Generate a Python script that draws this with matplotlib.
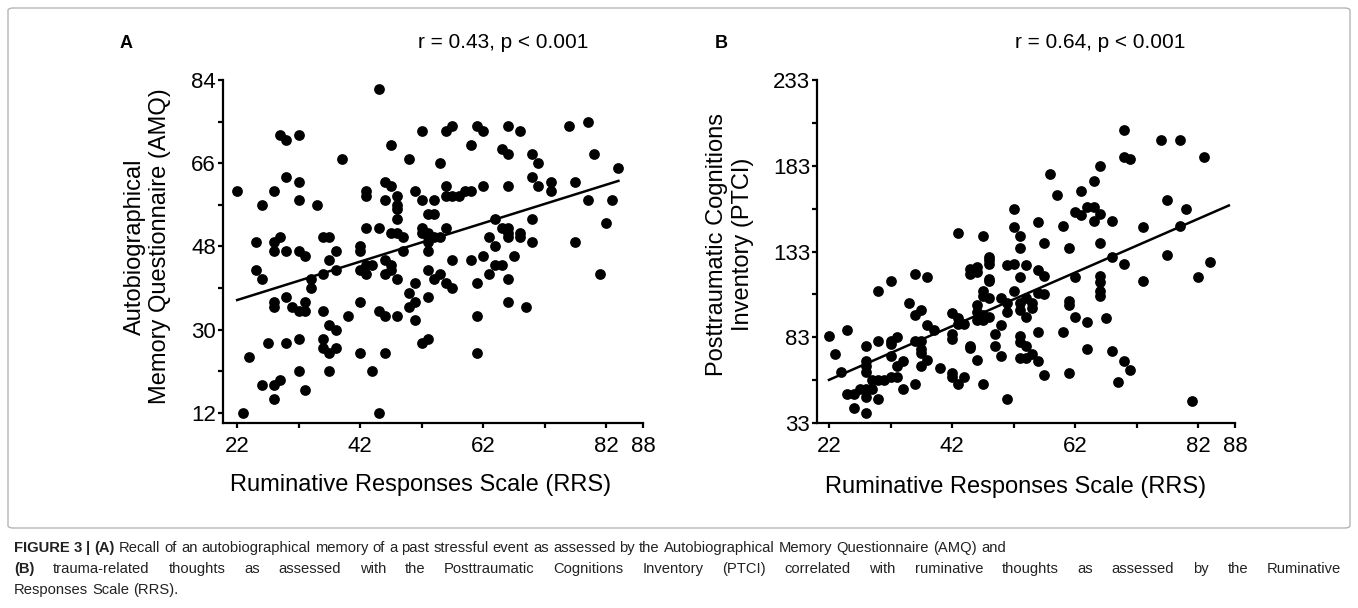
import numpy as np
import matplotlib
matplotlib.use('Agg')
import matplotlib.pyplot as plt
from matplotlib.patches import FancyBboxPatch

plt.rcParams['font.family'] = ['Liberation Sans', 'DejaVu Sans']

# Panel A: RRS vs AMQ
rrs_a = [22, 26, 28, 29, 30, 32, 30, 32, 32, 35, 39, 45, 47, 50, 52, 55,
         43, 43, 46, 47, 46, 48, 48, 48, 48, 51, 52, 54, 53, 54,
         43, 45, 47, 48, 49, 52, 52, 53, 53, 54, 55,
         25, 28, 29, 36, 37, 42,
         28, 30, 32, 33, 37, 38, 42, 42, 43, 44, 43, 46, 47, 47, 46, 48, 49, 53, 53, 53, 54, 55,
         51, 50, 51, 50, 53, 51, 52, 53,
         25, 26, 34, 36, 38, 34, 28, 28, 30, 31, 32, 33, 33, 36, 40, 42, 45, 46, 48, 37, 38,
         27, 30, 32, 36, 36, 37, 38, 42, 46, 24, 32, 37, 44, 26, 28, 29, 33, 28, 23, 45,
         56, 57, 61, 62, 66, 68, 76, 79, 60, 65, 66, 70, 71, 80,
         84, 70, 71, 73, 73, 77, 56, 62, 66, 56, 57, 58, 59, 60, 64, 70, 79, 83, 82, 56,
         63, 65, 66, 66, 66, 68, 68, 64, 70, 77,
         56, 57, 57, 60, 62, 63, 64, 65, 67, 66, 61, 66, 69, 61, 61, 81]
amq = [60, 57, 60, 72, 71, 72, 63, 62, 58, 57, 67, 82, 70, 67, 73, 66,
       60, 59, 62, 61, 58, 59, 57, 56, 54, 60, 58, 58, 55, 55,
       52, 52, 51, 51, 50, 52, 51, 51, 50, 50, 50,
       49, 49, 50, 50, 50, 48,
       47, 47, 47, 46, 45, 47, 47, 43, 44, 44, 42, 45, 44, 43, 42, 41, 47, 49, 47, 43, 41, 42,
       40, 38, 36, 35, 37, 32, 27, 28,
       43, 41, 41, 42, 43, 39, 36, 35, 37, 35, 34, 34, 36, 34, 33, 36, 34, 33, 33, 31, 30,
       27, 27, 28, 28, 26, 25, 26, 25, 25, 24, 21, 21, 21, 18, 18, 19, 17, 15, 12, 12,
       73, 74, 74, 73, 74, 73, 74, 75, 70, 69, 68, 68, 66, 68,
       65, 63, 61, 62, 60, 62, 61, 61, 61, 59, 59, 59, 60, 60, 54, 54, 58, 58, 53, 52,
       50, 52, 52, 51, 50, 51, 50, 48, 49, 49,
       40, 39, 45, 45, 46, 42, 44, 44, 46, 41, 40, 36, 35, 33, 25, 42]

# Panel B: RRS vs PTCI
rrs_b = [22, 23, 25, 24, 25, 26, 27, 28, 29, 26, 28, 28, 30, 29, 30, 31, 32, 33,
         28, 28, 28, 28, 30, 32, 32, 33, 32, 33, 34, 34,
         30, 32, 35, 36, 38, 36, 37, 36, 37, 37, 37, 38, 39, 38, 37, 36, 40,
         42, 43, 43, 44, 42, 42, 42, 42, 43, 44, 45, 45, 46, 47,
         45, 45, 46, 46, 48, 48, 48, 48, 48, 47, 47, 48, 46, 46, 46, 47, 48, 47,
         49, 49, 50, 50, 50, 51, 51, 51, 51, 52, 52, 53, 53, 54,
         53, 53, 54, 54, 53, 53, 54, 53, 54, 55,
         55, 55, 56, 57, 56, 57, 56, 56, 57, 57, 60, 61, 61, 61, 61,
         58, 59, 52, 52, 53, 56, 60, 43, 47,
         70, 70, 71, 76, 79, 83, 66, 65, 63, 64, 65, 62, 63, 66, 65, 68, 73, 77, 80, 79, 66,
         68, 70, 77, 84, 82, 73, 62, 66, 66, 66, 66, 62, 64, 67, 64, 68, 70, 71, 69, 81]
ptci = [84, 73, 87, 63, 50, 50, 53, 53, 53, 42, 39, 48, 47, 58, 58, 58, 60, 60,
        69, 66, 63, 78, 81, 81, 79, 83, 72, 66, 69, 53,
        110, 116, 103, 120, 118, 96, 99, 81, 81, 76, 74, 90, 87, 70, 66, 56, 65,
        97, 94, 91, 91, 85, 82, 62, 60, 56, 60, 78, 77, 70, 56,
        123, 120, 124, 121, 130, 128, 126, 117, 116, 110, 107, 106, 102, 98, 93, 93, 95, 96,
        85, 78, 90, 72, 106, 98, 103, 47, 125, 126, 110, 135, 118, 125,
        103, 99, 106, 95, 84, 80, 78, 71, 71, 73,
        103, 100, 122, 119, 109, 108, 86, 69, 61, 138, 86, 135, 104, 102, 62,
        178, 166, 158, 147, 142, 150, 148, 144, 142,
        204, 188, 187, 198, 198, 188, 183, 174, 168, 159, 159, 156, 154, 155, 151, 151, 147, 163, 158, 148, 138,
        130, 126, 131, 127, 118, 116, 118, 119, 115, 110, 107, 95, 92, 94, 76, 75, 69, 64, 57, 46]

# x range drawn by the regression lines
fit_range_a = [22, 84]
fit_range_b = [22, 87]

fig = plt.figure(figsize=(13.58, 6.08), dpi=100)
W, H = 1358, 608

# frame around the figure part
fig.patches.append(FancyBboxPatch((8 / W, 80 / H), 1342 / W, 520 / H,
                                  boxstyle='round,pad=0,rounding_size=0.004',
                                  transform=fig.transFigure, fill=False,
                                  edgecolor='#b5b5b5', linewidth=1.0))


def panel(rect, x, y, fit_range, xlim, ylim, yticks, yminor, ylabel, ylab_pos, xlab_pos,
          letter, stat, letter_x, stat_x):
    ax = fig.add_axes(rect)
    ax.scatter(x, y, s=60, color='black', zorder=3, linewidths=0)
    k, b = np.polyfit(x, y, 1)
    xs = np.array(fit_range)
    ax.plot(xs, k * xs + b, color='black', lw=1.8, zorder=2)
    ax.set_xlim(*xlim)
    ax.set_ylim(*ylim)
    ax.set_xticks([22, 42, 62, 82, 88])
    ax.set_xticks([32, 52, 72], minor=True)
    ax.set_yticks(yticks)
    ax.set_yticks(yminor, minor=True)
    for s in ['top', 'right']:
        ax.spines[s].set_visible(False)
    for s in ['left', 'bottom']:
        ax.spines[s].set_linewidth(1.6)
    ax.tick_params(which='both', direction='out', length=3.5, width=1.6, labelsize=16)
    ax.tick_params(axis='y', pad=1.5)
    ax.tick_params(axis='x', pad=5.5)
    ax.set_xlabel('Ruminative Responses Scale (RRS)', fontsize=17, va='center')
    ax.xaxis.set_label_coords(*xlab_pos)
    ax.set_ylabel(ylabel, fontsize=17, linespacing=1.2, va='center', ha='center')
    ax.yaxis.set_label_coords(*ylab_pos)
    fig.text(letter_x / W, 1 - 43 / H, letter, fontsize=13, fontweight='bold',
             ha='left', va='center')
    fig.text(stat_x / W, 1 - 43 / H, stat, fontsize=15, ha='center', va='center')
    return ax


panel([223 / W, 185 / H, 420 / W, 343 / H], rrs_a, amq, fit_range_a, (19.7, 88), (9.8, 84),
      [12, 30, 48, 66, 84], [21, 39, 57, 75],
      'Autobiographical\nMemory Questionnaire (AMQ)', ((147.5 - 223) / 420, 0.515),
      ((421 - 223) / 420, -0.18), 'A', 'r = 0.43, p < 0.001', 120, 503)
panel([817 / W, 185 / H, 418 / W, 343 / H], rrs_b, ptci, fit_range_b, (20.05, 88), (33, 233),
      [33, 83, 133, 183, 233], [58, 108, 158, 208],
      'Posttraumatic Cognitions\nInventory (PTCI)', ((730 - 817) / 418, 0.52),
      ((1016 - 817) / 418, -0.186), 'B', 'r = 0.64, p < 0.001', 715, 1100)

# caption with mixed bold / regular words; line 2 is justified
caption = [
    ('FIGURE 3 | (A) Recall of an autobiographical memory of a past stressful event as assessed by the '
     'Autobiographical Memory Questionnaire (AMQ) and', 4, False),
    ('(B) trauma-related thoughts as assessed with the Posttraumatic Cognitions Inventory (PTCI) '
     'correlated with ruminative thoughts as assessed by the Ruminative', 1, True),
    ('Responses Scale (RRS).', 0, False),
]
renderer = fig.canvas.get_renderer()
line_y = [548, 569, 590]
left, right = 14, 1341
fs = 10.6
for (line, nbold, justify), py in zip(caption, line_y):
    words = line.split(' ')
    texts = []
    for i, wd in enumerate(words):
        t = fig.text(0, 1 - py / H, wd, fontsize=fs, color='#222222',
                     fontweight='bold' if i < nbold else 'normal', ha='left', va='center')
        texts.append(t)
    widths = [t.get_window_extent(renderer).width for t in texts]
    sp = fig.text(0, 0, 'a a', fontsize=fs).get_window_extent(renderer).width - \
        fig.text(0, 0, 'aa', fontsize=fs).get_window_extent(renderer).width
    fig.texts[-2:] = []
    if justify:
        sp = (right - left - sum(widths)) / (len(words) - 1)
    x0 = left
    for t, w in zip(texts, widths):
        t.set_x(x0 / W)
        x0 += w + sp

fig.savefig('out.png', dpi=100)
